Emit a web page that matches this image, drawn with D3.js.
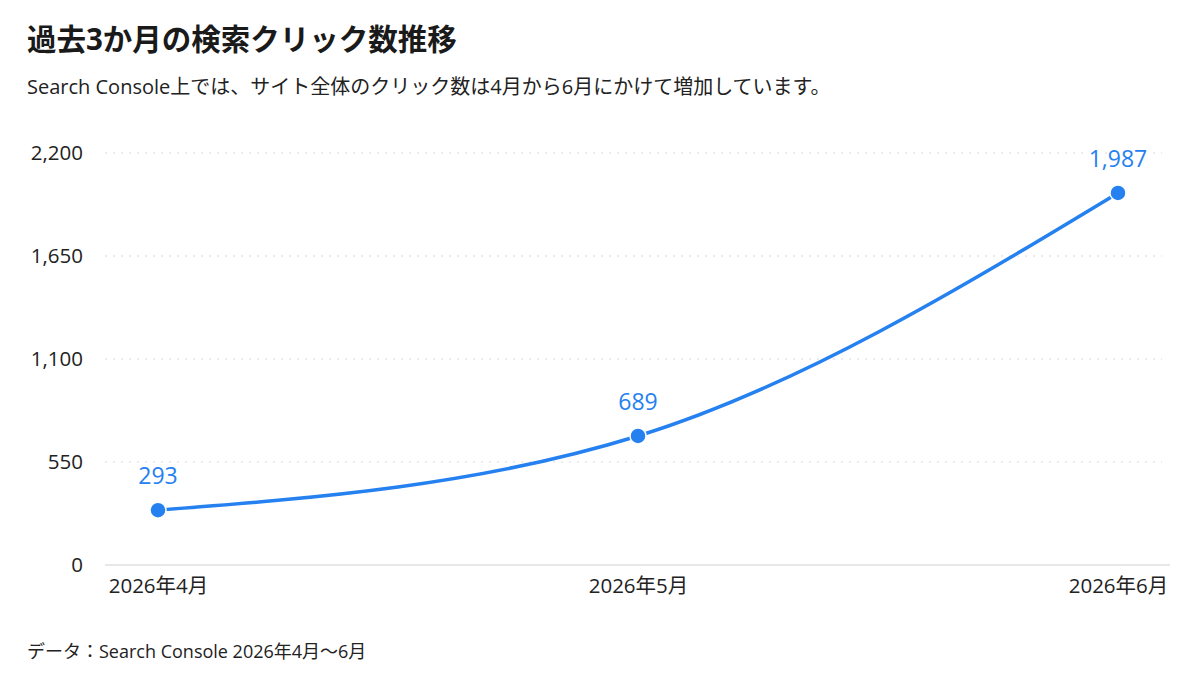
<!DOCTYPE html>
<html>
<head>
<meta charset="utf-8">
<title>過去3か月の検索クリック数推移</title>
<script src="https://cdn.jsdelivr.net/npm/d3@7"></script>
<style>
  body { margin: 0; background: #fff; }
  svg { display: block; font-family: "Open Sans", "Noto Sans CJK JP", sans-serif; }
</style>
</head>
<body>
<div id="chart"></div>
<script>
// data
var months = ["2026年4月", "2026年5月", "2026年6月"];
var clicks = [293, 689, 1987];
var yTicks = [0, 550, 1100, 1650, 2200];

var width = 1200, height = 675;
var plotLeft = 105, plotRight = 1170, plotTop = 153, plotBottom = 565;
var blue = "#2580f0";
var fontStack = "'Open Sans', 'Noto Sans CJK JP', sans-serif";

var svg = d3.select("#chart").append("svg")
  .attr("width", width)
  .attr("height", height);

var x = d3.scalePoint()
  .domain(months)
  .range([plotLeft + 53, plotRight - 52]);

var y = d3.scaleLinear()
  .domain([0, 2200])
  .range([plotBottom, plotTop]);

// title & subtitle
svg.append("text")
  .attr("x", 27).attr("y", 50)
  .attr("font-size", 29.5).attr("font-weight", 700).attr("fill", "#1a1a1a")
  .text("過去3か月の検索クリック数推移");

svg.append("text")
  .attr("x", 27).attr("y", 94)
  .attr("font-size", 20).attr("fill", "#222")
  .text("Search Console上では、サイト全体のクリック数は4月から6月にかけて増加しています。");

// gridlines
svg.append("g").selectAll("line")
  .data(yTicks.filter(function (d) { return d > 0; }))
  .enter().append("line")
    .attr("x1", plotLeft).attr("x2", plotRight - 8)
    .attr("y1", function (d) { return y(d); })
    .attr("y2", function (d) { return y(d); })
    .attr("stroke", "#d8d8d8")
    .attr("stroke-width", 1)
    .attr("stroke-dasharray", "2,6");

// baseline
svg.append("line")
  .attr("x1", plotLeft).attr("x2", plotRight)
  .attr("y1", y(0)).attr("y2", y(0))
  .attr("stroke", "#cfcfcf").attr("stroke-width", 1.2);

// y axis
var yAxis = svg.append("g")
  .attr("transform", "translate(" + (plotLeft - 22) + ",0)")
  .call(d3.axisLeft(y).tickValues(yTicks).tickSize(0).tickPadding(0)
    .tickFormat(d3.format(",")));
yAxis.select(".domain").remove();
yAxis.selectAll("text")
  .attr("font-size", 20.5).attr("fill", "#222")
  .attr("font-family", fontStack);

// x axis
var xAxis = svg.append("g")
  .attr("transform", "translate(0," + y(0) + ")")
  .call(d3.axisBottom(x).tickSize(0).tickPadding(13));
xAxis.select(".domain").remove();
xAxis.selectAll("text")
  .attr("font-size", 20.5).attr("fill", "#222")
  .attr("font-family", fontStack);

// line
var line = d3.line()
  .x(function (d, i) { return x(months[i]); })
  .y(function (d) { return y(d); })
  .curve(d3.curveMonotoneX);

svg.append("path")
  .datum(clicks)
  .attr("d", line)
  .attr("fill", "none")
  .attr("stroke", blue)
  .attr("stroke-width", 3.5)
  .attr("stroke-linecap", "round");

// points
svg.append("g").selectAll("circle")
  .data(clicks)
  .enter().append("circle")
    .attr("cx", function (d, i) { return x(months[i]); })
    .attr("cy", function (d) { return y(d); })
    .attr("r", 8)
    .attr("fill", blue)
    .attr("stroke", "#fff")
    .attr("stroke-width", 1.5);

// value labels
svg.append("g").selectAll("text")
  .data(clicks)
  .enter().append("text")
    .attr("x", function (d, i) { return x(months[i]); })
    .attr("y", function (d) { return y(d) - 26; })
    .attr("text-anchor", "middle")
    .attr("font-size", 23)
    .attr("fill", blue)
    .attr("stroke", "#fff").attr("stroke-width", 4)
    .attr("paint-order", "stroke")
    .text(function (d) { return d3.format(",")(d); });

// footer
svg.append("text")
  .attr("x", 27).attr("y", 658)
  .attr("font-size", 18).attr("fill", "#222")
  .text("データ：Search Console 2026年4月～6月");
</script>
</body>
</html>
